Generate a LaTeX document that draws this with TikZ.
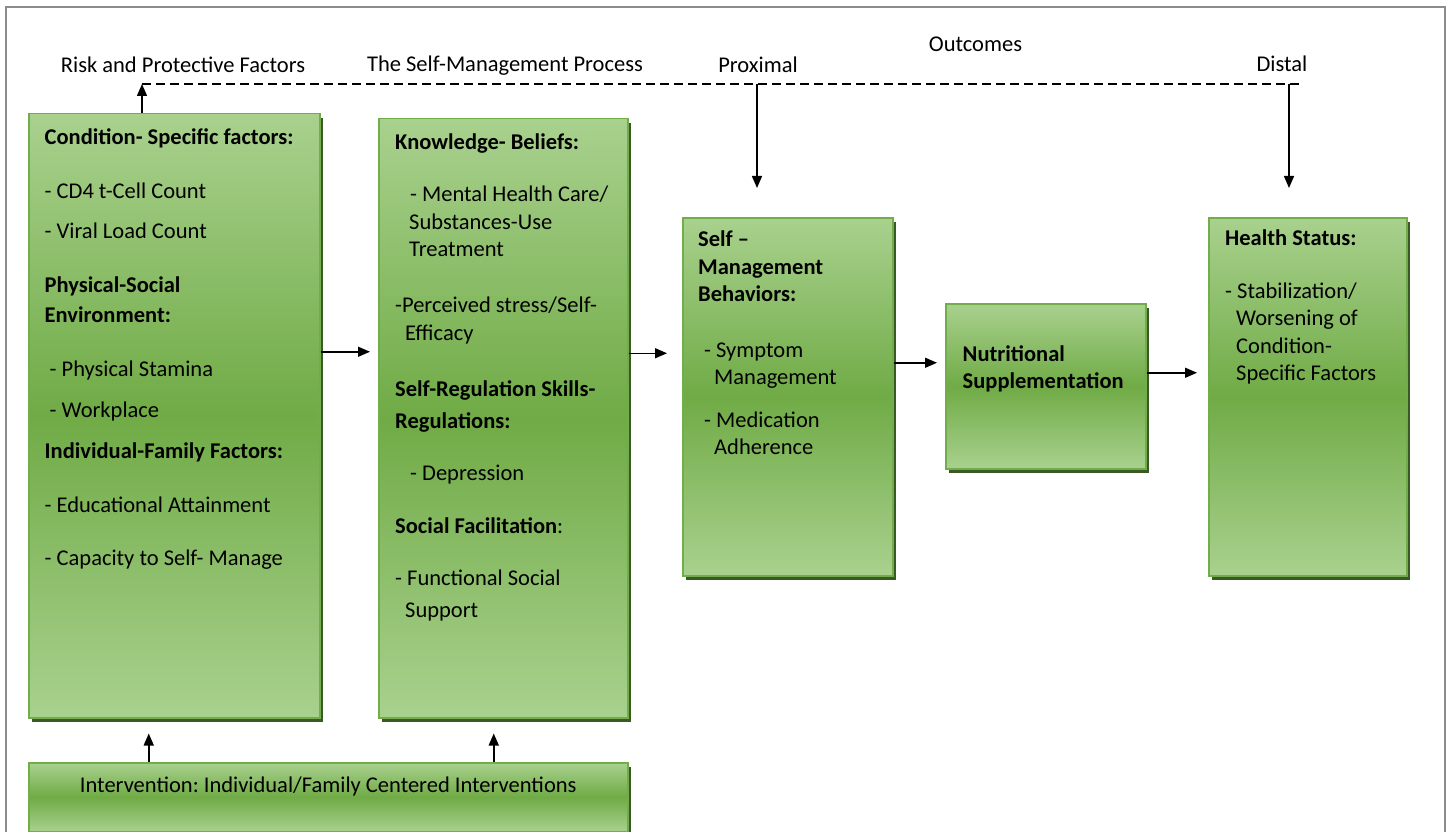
\documentclass[tikz,border=0pt]{standalone}
\usepackage{fontspec}
\setmainfont{Carlito}
\usetikzlibrary{arrows.meta,positioning,shadows}
\frenchspacing

\definecolor{boxlight}{HTML}{A9D18E}
\definecolor{boxdark}{HTML}{70AB46}
\definecolor{boxline}{HTML}{71AD4A}
\definecolor{boxshade}{HTML}{3A5A24}
\definecolor{framegray}{HTML}{8C8C8C}

\tikzset{
  factor/.style={draw=boxline, line width=1.5pt, anchor=north west, inner sep=0pt,
    top color=boxlight, bottom color=boxlight, middle color=boxdark,
    drop shadow={shadow xshift=3pt, shadow yshift=-4pt, fill=boxshade, opacity=1}},
  boxtext/.style={align=left, inner sep=0pt},
  arr/.style={-{Triangle[length=12pt,width=10pt]}, line width=1.5pt},
}

\begin{document}
\begin{tikzpicture}[x=1pt,y=-1pt,font=\fontsize{22.5}{27.5}\selectfont]
    \useasboundingbox (0,0) rectangle (1452,832);
    \draw[framegray, line width=1.2pt] (6,845) -- (6,7) -- (1445,7) -- (1445,845);

    % headings
    \node[anchor=base] (risk) at (183,72.7) {Risk and Protective Factors};
    \node[anchor=base] (process) at (505,72) {The Self-Management Process};
    \node[anchor=base] (prox) at (758,72.3) {Proximal};
    \node[anchor=base] (outc) at (975.5,51.7) {Outcomes};
    \node[anchor=base] (dist) at (1282,72) {Distal};

    \coordinate (dash-l) at (142,84);
    \coordinate (dash-r) at (1299,84);
    \coordinate (prox-top) at (757,84);
    \coordinate (prox-end) at (757,188);
    \coordinate (dist-top) at (1289,84);
    \coordinate (dist-end) at (1289,188);

    % boxes
    \node[factor, minimum width=291pt, minimum height=604pt] (cond) at (28,113) {};
    \node[factor, minimum width=249pt, minimum height=599pt] (know) at (378,118) {};
    \node[factor, minimum width=210pt, minimum height=358pt] (smb) at (682,217) {};
    \node[factor, minimum width=200pt, minimum height=165pt] (nutr) at (945,303) {};
    \node[factor, minimum width=198pt, minimum height=358pt] (health) at (1208,217) {};
    \node[factor, minimum width=599pt, minimum height=69pt] (interv) at (28,762) {};

    \node[boxtext, below right=12.5pt and 16.5pt of cond.north west] (cond-txt) {%
      \strut\textbf{Condition- Specific factors:}\\[26pt]
      - CD4 t-Cell Count\\[13pt]
      - Viral Load Count\\[26pt]
      \textbf{Physical-Social}\\[3pt]
      \textbf{Environment:}\\[26pt]
      \hspace{5pt}- Physical Stamina\\[14pt]
      \hspace{5pt}- Workplace\\[13.5pt]
      \textbf{Individual-Family Factors:}\\[26pt]
      - Educational Attainment\\[25.5pt]
      - Capacity to Self- Manage};

    \node[boxtext, below right=12pt and 17pt of know.north west] (know-txt) {%
      \strut\textbf{Knowledge- Beliefs:}\\[25pt]
      \hspace{15pt}- Mental Health Care/\\
      \hspace{14pt}Substances-Use\\
      \hspace{14pt}Treatment\\[28.5pt]
      -Perceived stress/Self-\\
      \hspace{10pt}Efficacy\\[28.5pt]
      \textbf{Self-Regulation Skills-}\\[4.5pt]
      \textbf{Regulations:}\\[25pt]
      \hspace{15pt}- Depression\\[25pt]
      \textbf{Social Facilitation}:\\[25pt]
      - Functional Social\\[4pt]
      \hspace{10pt}Support};

    \node[boxtext, below right=10.5pt and 16pt of smb.north west] (smb-txt) {%
      \strut\textbf{Self --}\\
      \textbf{Management}\\
      \textbf{Behaviors:}\\[28pt]
      \hspace{6pt}- Symptom\\
      \hspace{16pt}Management\\[15pt]
      \hspace{6pt}- Medication\\
      \hspace{16pt}Adherence};

    \node[boxtext, below right=38.7pt and 17.5pt of nutr.north west] (nutr-txt) {%
      \strut\textbf{Nutritional}\\
      \textbf{Supplementation}};

    \node[boxtext, below right=8.7pt and 17pt of health.north west] (health-txt) {%
      \strut\textbf{Health Status:}\\[25.5pt]
      - Stabilization/\\
      \hspace{11pt}Worsening of\\
      \hspace{11pt}Condition-\\
      \hspace{11pt}Specific Factors};

    \node[anchor=base] (interv-txt) at ([yshift=-30.5pt]interv.north)
      {Intervention: Individual/Family Centered Interventions};

    % connectors
    \draw[dashed, dash pattern=on 9pt off 5pt, line width=1.5pt] (dash-l) -- (dash-r);
    \draw[arr] (cond.north -| dash-l) -- (dash-l);
    \draw[arr] (prox-top) -- (prox-end);
    \draw[arr] (dist-top) -- (dist-end);

    \draw[arr, shorten >=8pt] ([yshift=64pt]cond.east) -- ([yshift=64pt]cond.east -| know.west);
    \draw[arr, shorten >=15pt] ([yshift=65pt]know.east) -- ([yshift=65pt]know.east -| smb.west);
    \draw[arr, shorten >=8pt] ([yshift=34pt]smb.east) -- ([yshift=34pt]smb.east -| nutr.west);
    \draw[arr, shorten >=11pt] ([yshift=13.5pt]nutr.east) -- ([yshift=13.5pt]nutr.east -| health.west);

    \draw[arr, shorten >=15pt] ([xshift=-179.5pt]interv.north) -- ([xshift=-179.5pt]interv.north |- cond.south);
    \draw[arr, shorten >=15pt] ([xshift=165.5pt]interv.north) -- ([xshift=165.5pt]interv.north |- know.south);
\end{tikzpicture}
\end{document}
